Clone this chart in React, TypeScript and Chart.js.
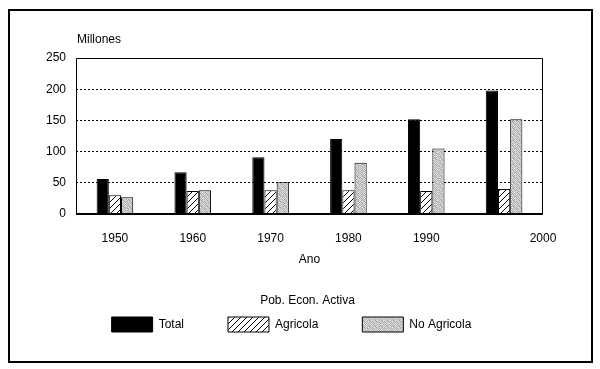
import React, { useEffect, useRef } from "react";
import { Chart, registerables } from "chart.js";
Chart.register(...registerables);

const categories = ["1950", "1960", "1970", "1980", "1990", "2000"];
const totalValues = [56, 67, 91, 120, 152, 198];
const agricolaValues = [30, 37, 38, 38, 37, 40];
const noAgricolaValues = [27, 38, 51, 82, 105, 152];
const seriesNames = ["Total", "Agricola", "No Agricola"];
const yTickValues = [0, 50, 100, 150, 200, 250];
const xTickLabels = ["1950", "1960", "1970", "1980", "1990", "2000"];
const xTickSlots = [0.5, 1.5, 2.5, 3.5, 4.5, 6];
const yTitle = "Millones";
const xTitle = "Ano";
const legendTitle = "Pob. Econ. Activa";

const FONT = "'Liberation Sans', Arial, Helvetica, sans-serif";
const font = { family: FONT, size: 12 };

function makeHatch(): CanvasPattern {
  const n = 6;
  const c = document.createElement("canvas");
  c.width = n;
  c.height = n;
  const g = c.getContext("2d")!;
  g.fillStyle = "#fff";
  g.fillRect(0, 0, n, n);
  g.strokeStyle = "#000";
  g.lineWidth = 1;
  g.beginPath();
  g.moveTo(0, n);
  g.lineTo(n, 0);
  g.moveTo(-1, 1);
  g.lineTo(1, -1);
  g.moveTo(n - 1, n + 1);
  g.lineTo(n + 1, n - 1);
  g.stroke();
  return g.createPattern(c, "repeat")!;
}

function makeStipple(): CanvasPattern {
  const n = 6;
  const shades = [
    205, 170, 220, 190, 232, 180,
    185, 225, 160, 210, 175, 215,
    230, 175, 200, 165, 220, 195,
    170, 210, 235, 185, 160, 225,
    215, 160, 190, 225, 200, 175,
    190, 230, 175, 205, 185, 220,
  ];
  const c = document.createElement("canvas");
  c.width = n;
  c.height = n;
  const g = c.getContext("2d")!;
  const img = g.createImageData(n, n);
  for (let i = 0; i < n * n; i++) {
    img.data[i * 4] = shades[i];
    img.data[i * 4 + 1] = shades[i];
    img.data[i * 4 + 2] = shades[i];
    img.data[i * 4 + 3] = 255;
  }
  g.putImageData(img, 0, 0);
  return g.createPattern(c, "repeat")!;
}

const decorPlugin = {
  id: "decor",
  afterDraw(chart: any) {
    const { ctx, chartArea } = chart;
    const { left, top, right, bottom } = chartArea;
    ctx.save();
    ctx.strokeStyle = "#000";
    ctx.lineWidth = 1;
    ctx.beginPath();
    ctx.moveTo(left + 0.5, bottom);
    ctx.lineTo(left + 0.5, top + 0.5);
    ctx.lineTo(right - 0.5, top + 0.5);
    ctx.lineTo(right - 0.5, bottom);
    ctx.stroke();
    ctx.lineWidth = 2;
    ctx.beginPath();
    ctx.moveTo(left, bottom);
    ctx.lineTo(right, bottom);
    ctx.stroke();
    ctx.fillStyle = "#000";
    ctx.font = "12px " + FONT;
    ctx.textBaseline = "middle";
    ctx.textAlign = "left";
    ctx.fillText(yTitle, left + 1, top - 18);
    const lg = chart.legend;
    ctx.textAlign = "center";
    ctx.fillText(legendTitle, (left + right) / 2 - 2, lg.top + 28);
    ctx.restore();
  },
};

export default function App() {
  const ref = useRef<HTMLCanvasElement | null>(null);

  useEffect(() => {
    const canvas = ref.current;
    if (!canvas) return;
    const hatch = makeHatch();
    const stipple = makeStipple();
    const chart = new Chart(canvas, {
      type: "bar",
      data: {
        labels: categories,
        datasets: [
          {
            label: seriesNames[0],
            data: totalValues,
            backgroundColor: "#000",
            borderColor: "#000",
            borderWidth: 1,
            xAxisID: "x",
            yAxisID: "y",
          },
          {
            label: seriesNames[1],
            data: agricolaValues,
            backgroundColor: hatch,
            borderColor: "#000",
            borderWidth: 1,
            xAxisID: "x",
            yAxisID: "y",
          },
          {
            label: seriesNames[2],
            data: noAgricolaValues,
            backgroundColor: stipple,
            borderColor: "#000",
            borderWidth: 1,
            xAxisID: "x",
            yAxisID: "y",
          },
        ],
      },
      options: {
        animation: false,
        responsive: false,
        devicePixelRatio: 1,
        layout: { padding: { top: 58, left: 40, right: 57, bottom: 27 } },
        datasets: { bar: { barPercentage: 1, categoryPercentage: 0.47 } },
        scales: {
          x: { type: "category", display: false },
          x2: {
            type: "linear",
            position: "bottom",
            min: 0,
            max: 6,
            offset: false,
            afterBuildTicks: (s: any) => {
              s.ticks = xTickSlots.map((v) => ({ value: v }));
            },
            afterFit: (s: any) => {
              s.height = 59;
            },
            ticks: {
              callback: (_v: any, i: number) => xTickLabels[i],
              autoSkip: false,
              maxRotation: 0,
              padding: 17,
              color: "#000",
              font,
            },
            grid: { display: false, drawTicks: false, offset: false },
            border: { display: false },
            title: {
              display: true,
              text: xTitle,
              color: "#000",
              font,
              padding: { top: 0, bottom: 6 },
            },
          },
          y: {
            type: "linear",
            min: 0,
            max: 250,
            afterBuildTicks: (s: any) => {
              s.ticks = yTickValues.map((v) => ({ value: v }));
            },
            afterFit: (s: any) => {
              s.width = 36;
            },
            ticks: { padding: 10, color: "#000", font },
            grid: {
              drawTicks: false,
              lineWidth: 1,
              color: (c: any) =>
                c.tick && (c.tick.value === 0 || c.tick.value === 250)
                  ? "rgba(0,0,0,0)"
                  : "#000",
            },
            border: { display: false, dash: [2, 2] },
          },
        },
        plugins: {
          legend: {
            position: "bottom",
            labels: {
              boxWidth: 41,
              boxHeight: 15,
              padding: 44,
              color: "#000",
              font,
            },
          },
          tooltip: { enabled: false },
          title: { display: false },
        },
      },
      plugins: [decorPlugin],
    });
    return () => chart.destroy();
  }, []);

  return (
    <div
      style={{
        position: "fixed",
        left: 0,
        top: 0,
        width: 600,
        height: 369,
        background: "#fff",
      }}
    >
      <canvas
        ref={ref}
        width={600}
        height={369}
        style={{ display: "block", width: 600, height: 369 }}
      />
      <div
        style={{
          position: "absolute",
          left: 8,
          top: 9,
          width: 585,
          height: 354,
          boxSizing: "border-box",
          border: "2px solid #000",
          pointerEvents: "none",
        }}
      />
    </div>
  );
}
